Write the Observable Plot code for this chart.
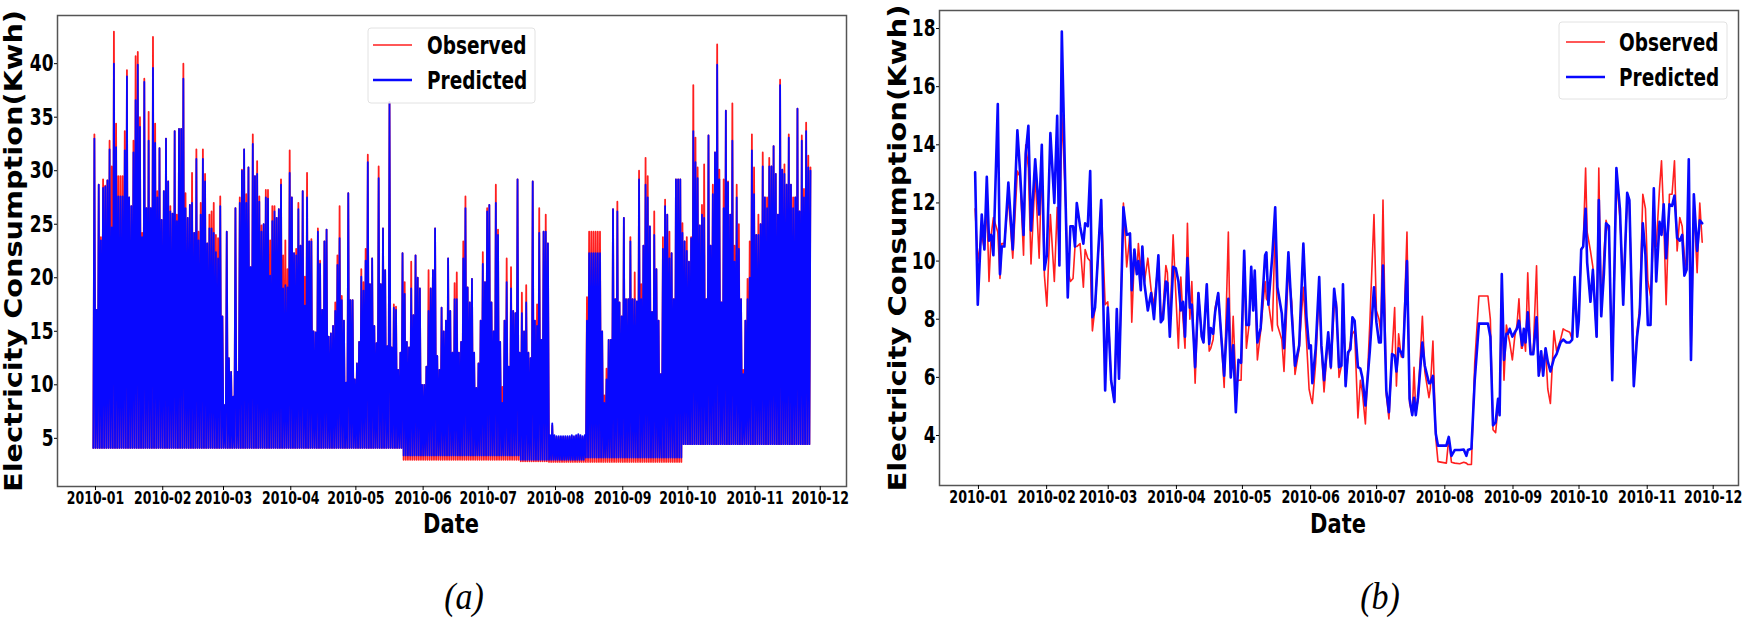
<!DOCTYPE html>
<html><head><meta charset="utf-8">
<script src="https://cdn.jsdelivr.net/npm/d3@7"></script>
<script src="https://cdn.jsdelivr.net/npm/@observablehq/plot@0.6"></script>
<style>
body{margin:0;background:#fff;}
#wrap{position:relative;width:1750px;height:618px;overflow:hidden;background:#fff;}
#pa{position:absolute;left:0;top:0;}
#pb{position:absolute;left:875px;top:0;}
</style></head>
<body><div id="wrap"><div id="pa"></div><div id="pb"></div></div>
<script>
// ---------- shared ----------
const monthLabels = ["2010-01","2010-02","2010-03","2010-04","2010-05","2010-06","2010-07","2010-08","2010-09","2010-10","2010-11","2010-12"];
const leftYTicks = [5,10,15,20,25,30,35,40];
const rightYTicks = [4,6,8,10,12,14,16,18];
const seriesNames = ["Observed","Predicted"];
const yTitle = "Electricity Consumption(Kwh)";
const xTitle = "Date";

// ---------- panel (a): hourly series summarised as daily peak per day (day offset from 2010-01-01, first day = -1) ----------
const leftFirstDay = -1;
const leftPredHi = [
33.0,17,28.7,23.5,28.4,28.5,29.1,32.0,24.7,40.0,
32.2,27.6,27.6,27.6,31.9,38.8,27.5,26.7,31.7,36.6,
39.9,34.1,23.8,38.3,26.5,32.8,26.5,39.6,32.6,27.5,
32.1,25.4,28.1,33.0,29.0,26.2,26.0,33.7,25.3,33.9,
33.9,38.6,26.5,25.6,26.8,27.0,24.2,31.1,23.5,25.9,
31.1,29.0,23.2,24.6,24.6,24.2,22.4,21.8,26.7,16.4,
8.1,24.3,12.5,11.2,8.9,26.5,11.2,27.0,30.0,32.0,
27.0,30.3,21.0,32.5,29.5,29.7,27.1,24.3,25.0,27.5,
27.4,20.2,25.3,26.2,25.6,26.4,28.7,19.0,19.3,19.1,
29.8,27.5,22.3,22.1,26.4,23.0,28.1,17.4,27.5,23.4,
23.4,15.0,14.9,24.3,21.3,17.0,23.4,24.5,14.5,14.8,
15.5,16.9,21.2,23.7,17.9,16.0,10.2,27.9,17.9,17.9,
10.5,12.0,14.0,20.1,18.8,21.6,30.8,19.4,21.8,15.5,
13.9,29.3,19.4,24.6,20.7,13.6,36.4,13.5,17.2,17.0,
11.4,13.0,22.3,18.5,14.0,13.5,19.0,16.5,22.1,20.0,
19.0,10.0,10.0,11.7,16.9,19.0,20.7,24.6,12.7,
11.4,17.2,15,16,21.8,16.9,13.0,18.0,18.0,13.0,
14,21.8,26.5,19.1,17.7,19.9,13,9.7,12,16,
21.3,19.6,26.2,26.8,17.7,15,27.0,24.0,14,8.3,
16,19.6,11.7,19,16.9,16.7,29.2,13,16.7,15,
17.7,13,12.5,29.0,16,15.5,24.2,14.2,24.3,24.3,
23.2,5.3,6.4,5.3,5.2,5.2,5.2,5.2,5.2,5.2,
5.2,5.3,5.2,5.3,5.4,5.3,5.2,5.3,16,22.3,
22.3,22.3,22.3,22.3,22.3,15,8.3,10.5,14.2,14.2,
26.4,18,26.2,17.7,16.4,25.6,18,18,23.4,18,
18,17.8,29.2,18,23.0,28.7,27.5,24.8,16.8,24.0,
20.8,16,11.0,22.7,26.7,25.9,21.8,22.3,18,29.2,
29.2,29.2,24.2,23.4,22.5,21.5,23.7,33.7,30.8,29.3,
24.9,25.9,25.6,18,33.3,23.0,27.8,31.7,39.9,29.2,
17.7,26.5,35.6,28.9,25.9,32.8,21.5,27.5,22.7,18,
11.0,16,18,20,31.9,27.8,24.0,24,25,30.4,
27.5,26.5,30.4,30.4,32.3,29.7,25.9,38.0,30.1,29.7,
28.7,33.1,28.7,26.5,27.5,35.8,26.2,32.8,27.5,33.7,
30.3,30.0];
const leftObsHi = [
33.4,17,28.7,23.8,29.2,28.6,29.1,32.8,30.4,43.0,
34.4,29.5,29.5,29.5,33.7,39.4,27.5,26.7,32.8,40.7,
41.1,35.0,24.2,38.6,26.5,35.5,26.5,42.5,34.4,28.1,
32.1,25.4,28.1,33.0,29.0,26.7,26.0,33.7,25.9,33.9,
33.9,40.0,27.9,25.6,26.8,29.8,24.2,32.0,24.3,27.0,
32.0,29.7,23.2,25.9,26.2,27.0,24.0,23.7,27.6,16.4,
8.1,24.3,12.5,11.2,8.9,26.5,11.2,27.5,30.1,32.0,
27.8,30.3,21.0,33.4,29.5,30.9,27.6,24.9,25.0,28.2,
28.2,23.5,26.7,26.7,25.6,26.4,29.2,22.1,23.5,20.8,
31.9,27.5,22.3,22.7,27.0,23.0,28.1,20.1,29.8,23.4,
23.6,15.0,14.9,24.6,21.6,17.0,23.4,24.5,14.5,14.8,
15.5,17.7,22.1,26.7,18.3,16.0,10.2,27.9,17.9,17.9,
10.5,12.0,14.0,20.8,19.6,22.7,31.5,19.4,21.8,15.5,
13.9,30.4,19.4,24.6,20.7,13.6,36.4,13.5,17.5,17.3,
11.4,13.0,22.3,19.6,14.0,13.5,21.5,16.5,22.1,20.0,
19.0,10.0,10.0,11.7,20.7,19.0,20.7,24.6,12.7,
11.4,17.2,15,16,21.8,16.9,13.0,19.5,20.5,13.0,
14,23.4,27.6,19.1,17.7,19.9,13,9.7,12,16,
22.4,19.6,26.5,26.8,17.7,15,28.7,24.5,14,9.8,
16,21.8,11.7,21,16.9,16.7,29.2,13,18.6,15,
19.3,13,12.5,29.0,16,17.5,26.5,14.2,24.3,25.9,
23.2,5.2,6.2,5.2,5.1,5.1,5.1,5.1,5.1,5.1,
5.1,5.2,5.1,5.2,5.3,5.2,5.1,5.2,18.2,24.3,
24.3,24.3,24.3,24.3,24.3,15,9.0,11.5,14.2,14.2,
26.4,18,27.1,17.7,16.4,25.6,18,18,23.8,18,
20.5,17.8,30.0,19.4,23.0,31.2,29.5,24.8,16.8,26.2,
20.8,16,11.0,23.8,27.3,25.9,24.3,22.3,18,29.2,
29.2,29.2,25.1,23.4,23.8,21.5,23.8,38.0,33.1,30.3,
24.9,26.8,30.6,18,33.3,23.0,28.7,31.7,41.8,30.1,
17.7,29.2,35.6,29.0,25.9,36.3,23.0,28.7,25.0,18,
11.4,16,19.9,23.4,33.4,30.3,24.0,25.9,25,31.7,
27.5,27.5,31.2,30.4,32.3,29.7,25.9,38.5,30.1,30.6,
28.7,33.4,28.7,27.5,27.5,35.8,26.2,33.3,28.3,34.5,
31.4,30.3];
// night-time minimum levels, by period (day offsets)
const lowSegStart = [-1, 142, 196, 209, 226, 271];
const lowSegEnd   = [142, 196, 209, 226, 271, 331];
const lowPred     = [4.1, 3.4, 3.0, 3.0, 3.2, 4.45];
const lowObs      = [4.1, 3.0, 2.85, 2.8, 2.8, 4.45];

// ---------- panel (b): daily series (day offset from 2010-01-01) ----------
const rightDay = [
-1.5,-0.3,1.5,2.7,3.8,4.8,5.8,6.8,8.8,9.8,10.6,11.8,13.6,15.6,17.7,18.9,20.5,21.5,22.7,23.9,25.8,27.6,28.8,30,31.1,32.7,34.5,35.8,36.8,37.9,39.4,40.6,41.8,43,43.9,44.7,46.2,47.7,48.5,49.7,50.8,51.8,53,55.8,57.6,58.8,60.3,61.8,62.9,63.9,65.9,67.4,68.9,69.7,70.9,72,72.7,73.8,74.5,75.5,77,78.5,79.8,
81.8,82.9,83.9,85.2,85.9,87,88.5,89.7,90.9,92,93,93.9,95,96.1,97,98.5,100,101.5,102.3,103.8,104.9,105.6,106.7,107.6,109,110.2,111.7,113.6,114.7,115.8,117,118.2,119.4,120.8,121.8,123,124,124.9,125.6,126.8,128.3,130.3,130.9,131.8,133.6,134.9,135.9,137.9,138.9,140.9,142.4,143.9,145.8,147.7,149.1,150.3,151.1,151.8,153.3,154.9,155.9,157.1,159,160.2,161.7,162.7,163.9,
165,165.7,166.9,168,169.1,170,171,172.5,173.6,174.5,175.9,177.9,179.8,180.9,182.1,182.9,183.9,185.4,186.6,188,189.2,190,191,192.2,193,194.8,196,197.2,198,198.8,199.8,201.8,202.9,204.8,205.4,206.6,207.9,208.9,212.7,213.8,215,216.5,218.8,220.6,221.8,222.5,224.1,225.6,227.5,231.6,232.7,233.9,235.1,236.2,236.9,237.9,238.9,240,240.7,241.5,242.7,243.8,244.8,245.7,246.8,
247.2,247.9,248.7,249.7,251,252.2,253.7,254.7,255.8,256.7,257.8,258.8,260,261.6,262.8,264.6,265.8,267.3,268.8,269.9,271,272.2,272.9,274,274.9,276,276.7,278.2,279.3,281,282,283.1,284.3,285.3,286.6,288.1,290,291.6,293.1,294.9,295.9,297.9,299.4,300.6,302,303.2,304.3,305.5,307,308.1,309.6,310.5,311.5,312.6,314.1,315.3,316.4,317.6,318.8,319.9,320.9,321.9,322.9,323.9,325.2,326.7,327.9,329];
const rightPred = [
13.05,8.5,11.6,10.4,12.9,10.7,10.9,10.2,15.4,9.55,10.5,10.5,12.7,10.4,14.5,13.1,10.9,13.7,14.65,11.05,13.5,11.6,14.0,9.7,10.2,14.4,12.0,15.0,9.85,17.9,12.8,8.75,11.2,11.2,10.5,12.0,11.2,10.6,11.3,11.2,13.1,8.07,8.4,12.1,5.55,8.4,5.9,5.15,8.35,5.95,11.85,10.9,10.95,9.0,10.4,9.55,10.0,9.0,10.5,9.2,8.3,8.9,8.0,
10.2,7.9,8.0,9.3,9.25,7.4,9.8,9.75,9.3,8.3,8.6,7.4,10.1,8.4,8.5,6.35,8.9,7.4,7.2,9.2,7.15,7.7,7.5,8.25,8.9,7.6,6.06,8.7,6.0,7.1,4.8,6.6,6.5,10.35,7.8,7.8,9.8,8.3,9.67,7.2,7.7,10.2,10.3,8.5,10.2,11.85,9.1,8.2,7.0,10.3,8.2,6.4,7.1,10.6,8.1,7.0,7.1,5.8,7.0,9.45,7.1,5.9,7.55,6.35,9.05,8.4,6.35,
6.4,9.2,5.7,6.86,6.97,8.07,7.95,6.35,6.3,6.0,5.03,6.9,9.1,7.9,7.2,7.2,9.85,5.55,4.8,6.8,6.75,6.2,7.0,6.85,6.7,10.0,5.26,4.7,5.3,4.7,5.3,7.2,6.4,5.8,5.8,6.05,4.06,3.65,3.65,3.95,3.3,3.5,3.5,3.52,3.3,3.5,3.55,5.9,7.85,7.85,7.4,4.35,4.45,5.26,4.7,9.55,6.6,7.5,7.5,7.67,7.4,7.55,7.67,7.95,7.3,
7.1,7.67,7.2,8.24,6.8,6.8,8.07,6.06,6.9,6.06,7.0,6.55,6.2,6.65,6.8,7.2,7.3,7.2,7.2,7.3,9.45,7.4,7.95,10.4,10.5,11.8,9.95,8.6,9.7,7.4,12.1,8.1,9.55,11.3,11.2,5.9,13.2,11.8,8.5,12.35,12.1,5.7,7.4,8.2,11.3,10.2,7.8,7.8,12.5,9.3,11.35,10.9,11.95,10.1,11.95,11.9,12.25,10.8,10.7,10.9,9.5,9.7,13.5,6.6,12.3,10.35,11.4,11.3];
const rightObs = [
11.8,10.0,10.9,10.4,12.0,9.3,10.9,11.5,11.0,9.4,10.6,10.6,12.2,10.1,13.1,12.9,10.2,14.0,13.2,9.9,13.0,10.1,13.3,9.5,8.45,11.6,9.3,11.85,10.0,15.05,12.5,9.7,9.3,9.4,10.5,10.5,10.6,9.1,10.4,10.1,10.0,7.6,8.4,12.0,8.5,8.6,5.9,5.15,8.35,5.95,12.0,9.8,10.95,7.9,10.2,9.55,10.6,9.6,10.5,9.3,10.1,9.0,8.5,
10.0,8.0,8.3,9.85,9.6,7.6,10.9,8.9,7.0,9.45,8.0,7.0,11.3,8.0,9.3,5.8,8.9,7.4,7.2,9.2,6.9,7.0,7.3,8.4,8.9,7.6,5.65,11.0,6.0,8.1,5.8,5.9,5.9,10.3,7.0,7.8,9.6,8.3,9.5,6.6,7.6,9.3,8.7,8.6,7.6,11.3,7.8,7.3,6.2,9.7,8.6,6.1,7.0,9.1,7.3,5.6,5.3,5.1,6.5,9.0,7.0,5.5,7.4,6.3,8.4,8.6,6.0,
6.4,9.0,5.9,6.7,7.2,7.5,7.6,4.6,5.9,5.5,4.4,7.85,11.6,8.3,8.0,7.5,12.1,5.4,4.57,6.8,8.4,5.7,7.5,6.7,6.7,11.0,5.1,4.7,6.35,4.8,5.2,8.1,6.2,5.3,5.6,7.25,3.9,3.1,3.05,3.9,3.08,3.05,3.03,3.08,3.05,3.0,3.0,6.5,8.8,8.8,8.0,4.2,4.1,5.0,4.8,9.3,5.9,7.8,7.5,7.2,6.6,7.4,7.8,8.7,7.0,
7.0,7.5,6.9,9.6,6.8,6.9,9.84,6.06,6.4,6.5,7.0,5.6,5.1,7.6,6.9,7.3,7.67,7.6,7.55,7.3,9.0,7.9,8.0,10.4,10.5,13.2,11.0,10.35,9.8,7.4,13.2,8.1,10.2,11.4,11.0,6.1,12.8,11.5,9.2,12.0,12.0,5.9,7.6,8.4,12.3,11.8,9.3,8.8,11.0,10.5,12.5,13.45,11.5,8.5,12.3,12.3,13.45,10.35,11.5,11.2,10.2,9.7,12.0,6.6,12.0,9.6,12.0,10.65];

// ---------- helpers ----------
const DAY = 86400000, BASE = Date.UTC(2010, 0, 1);
const toDate = d => new Date(BASE + d * DAY);
const monthTicks = monthLabels.map(s => new Date(s + "-01T00:00:00Z"));
const RED = "#ff1f1f", BLUE = "#0808ff";

// daily table for panel (a): night minimum then daytime peak
const leftRows = [];
leftPredHi.forEach((hi, k) => {
  const d = leftFirstDay + k;
  let s = lowSegStart.findIndex((a, j) => d >= a && d < lowSegEnd[j]);
  if (s < 0) s = lowSegStart.length - 1;
  leftRows.push({t: toDate(d), pred: lowPred[s], obs: lowObs[s]});
  leftRows.push({t: toDate(d + 0.5), pred: hi, obs: leftObsHi[k]});
});
const rightRows = rightDay.map((d, i) => ({t: toDate(d), pred: rightPred[i], obs: rightObs[i]}));

function stretch(svg, sel, sy) {
  svg.querySelectorAll(sel).forEach(t => {
    const b = t.getBBox();
    const cy = b.y + b.height / 2;
    const tr = t.getAttribute("transform") || "";
    t.setAttribute("transform", `${tr} translate(0,${cy}) scale(1,${sy}) translate(0,${-cy})`);
  });
}
function addText(svg, str, x, y, o) {
  const t = d3.select(svg).append("text").text(str)
    .attr("font-family", o.family || "'DejaVu Sans', sans-serif")
    .attr("font-weight", o.weight || "bold")
    .attr("font-style", o.fstyle || "normal")
    .attr("font-size", o.size)
    .attr("text-anchor", o.anchor || "middle")
    .attr("dominant-baseline", "central")
    .attr("fill", "#000");
  const rot = o.rotate ? ` rotate(${o.rotate})` : "";
  t.attr("transform", `translate(${x},${y})${rot} scale(${o.sx || 1},${o.sy || 1})`);
  if (o.length) t.attr("textLength", o.length).attr("lengthAdjust", "spacingAndGlyphs");
  return t;
}
function legend(svg, bx, by, bw, bh, lx1, lx2, y1, y2, tx) {
  const g = d3.select(svg).append("g");
  g.append("rect").attr("x", bx).attr("y", by).attr("width", bw).attr("height", bh).attr("rx", 3)
    .attr("fill", "white").attr("fill-opacity", 0.85).attr("stroke", "#e2e2e2");
  g.append("line").attr("x1", lx1).attr("x2", lx2).attr("y1", y1).attr("y2", y1).attr("stroke", RED).attr("stroke-width", 1.6);
  g.append("line").attr("x1", lx1).attr("x2", lx2).attr("y1", y2).attr("y2", y2).attr("stroke", BLUE).attr("stroke-width", 2.4);
  addText(svg, seriesNames[0], tx, y1 + 1, {size: 18.5, anchor: "start", sy: 1.3});
  addText(svg, seriesNames[1], tx, y2 + 1, {size: 18.5, anchor: "start", sy: 1.3});
}
const baseStyle = {fontFamily: "'DejaVu Sans', sans-serif", fontWeight: "bold", color: "#000", background: "white", overflow: "visible"};

// ---------- panel (a) ----------
const pa = Plot.plot({
  width: 870, height: 618,
  marginLeft: 57, marginRight: 24, marginTop: 15, marginBottom: 132,
  style: baseStyle,
  x: {type: "utc", domain: [toDate(-17.5), toDate(346.1)]},
  y: {domain: [0.5, 44.5]},
  marks: [
    Plot.line(leftRows, {x: "t", y: "obs", stroke: RED, strokeWidth: 1.8}),
    Plot.line(leftRows, {x: "t", y: "pred", stroke: BLUE, strokeWidth: 1.8}),
    Plot.frame({stroke: "#555", strokeWidth: 1.5}),
    Plot.axisX(monthTicks, {anchor: "bottom", tickFormat: d3.utcFormat("%Y-%m"), tickSize: 4, tickPadding: 3, fontSize: 12.5, label: null}),
    Plot.axisY(leftYTicks, {anchor: "left", tickSize: 3, tickPadding: 1, fontSize: 17, label: null})
  ]
});
document.getElementById("pa").appendChild(pa);

// ---------- panel (b) ----------
const pb = Plot.plot({
  width: 875, height: 618,
  marginLeft: 64, marginRight: 12, marginTop: 10, marginBottom: 133,
  style: baseStyle,
  x: {type: "utc", domain: [toDate(-17.7), toDate(345.5)]},
  y: {domain: [2.28, 18.62]},
  marks: [
    Plot.line(rightRows, {x: "t", y: "obs", stroke: RED, strokeWidth: 1.6}),
    Plot.line(rightRows, {x: "t", y: "pred", stroke: BLUE, strokeWidth: 2.6}),
    Plot.frame({stroke: "#555", strokeWidth: 1.5}),
    Plot.axisX(monthTicks, {anchor: "bottom", tickFormat: d3.utcFormat("%Y-%m"), tickSize: 4, tickPadding: 3, fontSize: 12.7, label: null}),
    Plot.axisY(rightYTicks, {anchor: "left", tickSize: 3, tickPadding: 1, fontSize: 17, label: null})
  ]
});
document.getElementById("pb").appendChild(pb);

for (const svg of [pa, pb]) {
  stretch(svg, 'g[aria-label="x-axis tick label"] text', 1.4);
  stretch(svg, 'g[aria-label="y-axis tick label"] text', 1.35);
}

// titles, legends, panel letters
addText(pa, yTitle, 14, 251, {size: 24, rotate: -90, length: 482});
addText(pa, xTitle, 451, 523, {size: 21, sy: 1.3});
legend(pa, 368, 28, 167, 75, 373, 412, 45, 80, 427);
addText(pa, "(a)", 464, 596, {size: 34, family: "'Liberation Serif', 'Times New Roman', serif", weight: "normal", fstyle: "italic", sy: 1.1});

addText(pb, yTitle, 22.5, 248, {size: 24, rotate: -90, length: 487});
addText(pb, xTitle, 463, 523, {size: 21, sy: 1.3});
legend(pb, 684, 22, 168, 77, 691, 730, 42, 77, 744);
addText(pb, "(b)", 505, 596, {size: 34, family: "'Liberation Serif', 'Times New Roman', serif", weight: "normal", fstyle: "italic", sy: 1.1});
</script>
</body></html>
